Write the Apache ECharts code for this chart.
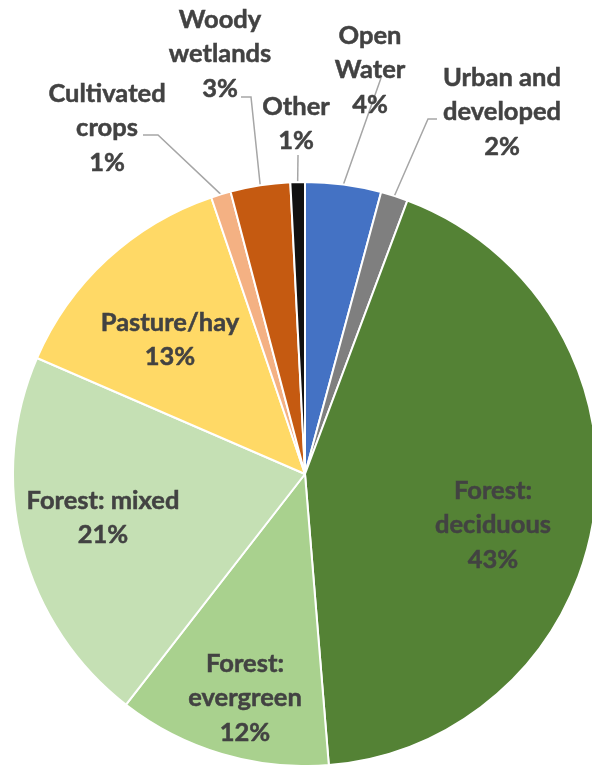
<!DOCTYPE html>
<html>
<head>
<meta charset="utf-8">
<script src="https://cdn.jsdelivr.net/npm/echarts@6/dist/echarts.min.js"></script>
<style>
html,body{margin:0;padding:0;background:#fff;}
#chart{width:592px;height:765px;}
</style>
</head>
<body>
<div id="chart"></div>
<script>
// Data (clockwise from 12 o'clock)
const categories = ["Open Water", "Urban and developed", "Forest: deciduous", "Forest: evergreen", "Forest: mixed", "Pasture/hay", "Cultivated crops", "Woody wetlands", "Other"];
const values = [4.2, 1.5, 43.0, 11.8, 21.0, 13.3, 1.1, 3.3, 0.8];
const labelNames = ["Open\nWater", "Urban and\ndeveloped", "Forest:\ndeciduous", "Forest:\nevergreen", "Forest: mixed", "Pasture/hay", "Cultivated\ncrops", "Woody\nwetlands", "Other"];

// Styles / layout (kept separate from data)
const colors = ["#4472C4", "#7F7F7F", "#548235", "#A9D18E", "#C5E0B4", "#FFD966", "#F4B183", "#C55A11", "#111111"];
const inside = [false, false, true, true, true, true, false, false, false];
const labelPos = [[370, 70], [502, 112], [493, 525], [245, 698], [103, 518], [170, 340], [107, 128], [220, 54], [296, 124]];
const leaderPts = [
  [[381, 78]],
  [[428, 119], [437, 119]],
  null, null, null, null,
  [[158, 135], [143, 135]],
  [[251, 97], [241, 97]],
  [[298, 155]]
];

const chart = echarts.init(document.getElementById('chart'));
const data = categories.map((c, i) => ({
  name: c,
  value: values[i],
  itemStyle: { color: colors[i] },
  label: { position: inside[i] ? 'inside' : 'outside' },
  labelLine: { show: !inside[i] }
}));

chart.setOption({
  animation: false,
  series: [{
    type: 'pie',
    center: [305, 474],
    radius: [0, 292],
    startAngle: 90,
    clockwise: true,
    avoidLabelOverlap: false,
    itemStyle: { borderColor: '#ffffff', borderWidth: 2 },
    label: {
      show: true,
      formatter: p => labelNames[p.dataIndex] + '\n' + Math.round(p.percent) + '%',
      fontFamily: 'Lato',
      fontWeight: 'bold',
      fontSize: 25.5,
      lineHeight: 34.5,
      color: '#424242',
      textBorderColor: '#424242',
      textBorderWidth: 0.5,
      align: 'center'
    },
    labelLine: {
      show: true,
      length: 20,
      length2: 10,
      lineStyle: { color: '#A6A6A6', width: 1.5 }
    },
    labelLayout: function (params) {
      const i = params.dataIndex;
      const out = { x: labelPos[i][0], y: labelPos[i][1], align: 'center', verticalAlign: 'middle' };
      if (leaderPts[i] && params.labelLinePoints) {
        out.labelLinePoints = [params.labelLinePoints[0]].concat(leaderPts[i]);
      }
      return out;
    },
    data: data
  }]
});
</script>
</body>
</html>
